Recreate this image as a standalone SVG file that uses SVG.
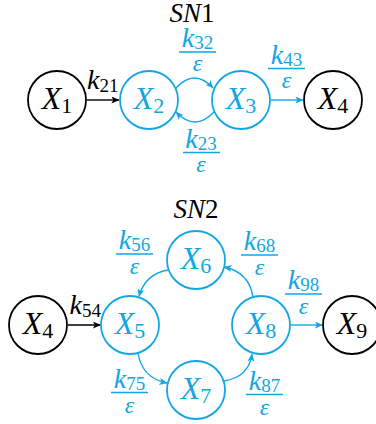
<svg xmlns="http://www.w3.org/2000/svg" width="376" height="424" viewBox="0 0 376 424">
<style>
.nb{fill:#fff;stroke:#000;stroke-width:1.8}
.nc{fill:#fff;stroke:#12A6E3;stroke-width:1.8}
.eb{stroke:#000;stroke-width:1.4;fill:none}
.ec{stroke:#12A6E3;stroke-width:1.4;fill:none}
.bar{stroke:#12A6E3;stroke-width:1.5}
</style>
<defs>
<marker id="ab" viewBox="0 0 8 7" refX="7.6" refY="3.5" markerWidth="8" markerHeight="7" markerUnits="userSpaceOnUse" orient="auto"><path d="M0,0 L8,3.5 L0,7 L2,3.5 z" fill="#000"/></marker>
<marker id="ac" viewBox="0 0 8 7" refX="7.6" refY="3.5" markerWidth="8" markerHeight="7" markerUnits="userSpaceOnUse" orient="auto"><path d="M0,0 L8,3.5 L0,7 L2,3.5 z" fill="#12A6E3"/></marker>
</defs>

<text x="169.5" y="22" font-family="Liberation Serif" font-size="27" font-style="italic" fill="#000">SN</text>
<text x="201" y="22" font-family="Liberation Serif" font-size="27" fill="#000">1</text>
<text x="173.5" y="218" font-family="Liberation Serif" font-size="27" font-style="italic" fill="#000">SN</text>
<text x="205" y="218" font-family="Liberation Serif" font-size="27" fill="#000">2</text>

<g id="connectors">
<line class="eb" x1="87" y1="100" x2="119" y2="100" marker-end="url(#ab)"/>
<path class="ec" d="M176,88 Q194.5,68 213,88" marker-end="url(#ac)"/>
<path class="ec" d="M214,112 Q195,132 176,112" marker-end="url(#ac)"/>
<line class="ec" x1="271" y1="100" x2="303" y2="100" marker-end="url(#ac)"/>
<line class="eb" x1="68" y1="325" x2="100.5" y2="325" marker-end="url(#ab)"/>
<path class="ec" d="M168,270 Q145,274 139,296.5" marker-end="url(#ac)"/>
<path class="ec" d="M253,297 Q249,272 224,267" marker-end="url(#ac)"/>
<path class="ec" d="M138,353 Q142,378 167,383" marker-end="url(#ac)"/>
<path class="ec" d="M224,381 Q249,377 252,354" marker-end="url(#ac)"/>
<line class="ec" x1="291" y1="325" x2="322.5" y2="325" marker-end="url(#ac)"/>

<text x="87" y="89" font-family="Liberation Serif" font-size="28" font-style="italic" fill="#000">k</text>
<text x="99.5" y="92" font-family="Liberation Serif" font-size="19" fill="#000">21</text>
<text x="69.5" y="314" font-family="Liberation Serif" font-size="28" font-style="italic" fill="#000">k</text>
<text x="82" y="317" font-family="Liberation Serif" font-size="19" fill="#000">54</text>

<g id="f32"><text x="181.8" y="47" font-family="Liberation Serif" font-size="28" font-style="italic" fill="#12A6E3">k</text><text x="194.2" y="49" font-family="Liberation Serif" font-size="19" fill="#12A6E3">32</text><line class="bar" x1="179" y1="52" x2="216" y2="52"/><text x="197.5" y="71" text-anchor="middle" font-family="Liberation Serif" font-style="italic" font-size="24" fill="#12A6E3">ε</text></g>
<g id="f43"><text x="270.8" y="63.5" font-family="Liberation Serif" font-size="28" font-style="italic" fill="#12A6E3">k</text><text x="283.2" y="65.5" font-family="Liberation Serif" font-size="19" fill="#12A6E3">43</text><line class="bar" x1="268" y1="68.5" x2="305" y2="68.5"/><text x="286.5" y="87.5" text-anchor="middle" font-family="Liberation Serif" font-style="italic" font-size="24" fill="#12A6E3">ε</text></g>
<g id="f23"><text x="185.3" y="147.5" font-family="Liberation Serif" font-size="28" font-style="italic" fill="#12A6E3">k</text><text x="197.7" y="149.5" font-family="Liberation Serif" font-size="19" fill="#12A6E3">23</text><line class="bar" x1="183" y1="152.5" x2="220" y2="152.5"/><text x="201" y="171.5" text-anchor="middle" font-family="Liberation Serif" font-style="italic" font-size="24" fill="#12A6E3">ε</text></g>
<g id="f56"><text x="118.8" y="249" font-family="Liberation Serif" font-size="28" font-style="italic" fill="#12A6E3">k</text><text x="131.2" y="251" font-family="Liberation Serif" font-size="19" fill="#12A6E3">56</text><line class="bar" x1="116" y1="254" x2="153" y2="254"/><text x="134.5" y="274" text-anchor="middle" font-family="Liberation Serif" font-style="italic" font-size="24" fill="#12A6E3">ε</text></g>
<g id="f68"><text x="243.8" y="250" font-family="Liberation Serif" font-size="28" font-style="italic" fill="#12A6E3">k</text><text x="256.2" y="252" font-family="Liberation Serif" font-size="19" fill="#12A6E3">68</text><line class="bar" x1="241" y1="255" x2="278" y2="255"/><text x="259.5" y="275" text-anchor="middle" font-family="Liberation Serif" font-style="italic" font-size="24" fill="#12A6E3">ε</text></g>
<g id="f98"><text x="287.8" y="289" font-family="Liberation Serif" font-size="28" font-style="italic" fill="#12A6E3">k</text><text x="300.2" y="291" font-family="Liberation Serif" font-size="19" fill="#12A6E3">98</text><line class="bar" x1="285" y1="294" x2="322" y2="294"/><text x="303.5" y="314" text-anchor="middle" font-family="Liberation Serif" font-style="italic" font-size="24" fill="#12A6E3">ε</text></g>
<g id="f75"><text x="113.8" y="387.5" font-family="Liberation Serif" font-size="28" font-style="italic" fill="#12A6E3">k</text><text x="126.2" y="389.5" font-family="Liberation Serif" font-size="19" fill="#12A6E3">75</text><line class="bar" x1="111" y1="392.5" x2="148" y2="392.5"/><text x="129.5" y="412.5" text-anchor="middle" font-family="Liberation Serif" font-style="italic" font-size="24" fill="#12A6E3">ε</text></g>
<g id="f87"><text x="248.8" y="389.5" font-family="Liberation Serif" font-size="28" font-style="italic" fill="#12A6E3">k</text><text x="261.2" y="391.5" font-family="Liberation Serif" font-size="19" fill="#12A6E3">87</text><line class="bar" x1="246" y1="394.5" x2="283" y2="394.5"/><text x="264.5" y="414.5" text-anchor="middle" font-family="Liberation Serif" font-style="italic" font-size="24" fill="#12A6E3">ε</text></g>
</g>

<g id="X1"><circle class="nb" cx="57" cy="100" r="29"/><text x="41.7" y="109" font-family="Liberation Serif" font-size="32" font-style="italic" fill="#000">X</text><text x="61.3" y="113" font-family="Liberation Serif" font-size="22" fill="#000">1</text></g>
<g id="X2"><circle class="nc" cx="149" cy="100" r="29"/><text x="133.7" y="109" font-family="Liberation Serif" font-size="32" font-style="italic" fill="#12A6E3">X</text><text x="153.3" y="113" font-family="Liberation Serif" font-size="22" fill="#12A6E3">2</text></g>
<g id="X3"><circle class="nc" cx="241" cy="100" r="29"/><text x="225.7" y="109" font-family="Liberation Serif" font-size="32" font-style="italic" fill="#12A6E3">X</text><text x="245.3" y="113" font-family="Liberation Serif" font-size="22" fill="#12A6E3">3</text></g>
<g id="X4a"><circle class="nb" cx="333" cy="100" r="29"/><text x="317.7" y="109" font-family="Liberation Serif" font-size="32" font-style="italic" fill="#000">X</text><text x="337.3" y="113" font-family="Liberation Serif" font-size="22" fill="#000">4</text></g>

<g id="X4b"><circle class="nb" cx="38" cy="325" r="29"/><text x="22.7" y="334" font-family="Liberation Serif" font-size="32" font-style="italic" fill="#000">X</text><text x="42.3" y="338" font-family="Liberation Serif" font-size="22" fill="#000">4</text></g>
<g id="X5"><circle class="nc" cx="130" cy="325" r="29"/><text x="114.7" y="334" font-family="Liberation Serif" font-size="32" font-style="italic" fill="#12A6E3">X</text><text x="134.3" y="338" font-family="Liberation Serif" font-size="22" fill="#12A6E3">5</text></g>
<g id="X6"><circle class="nc" cx="196" cy="260" r="29"/><text x="180.7" y="269" font-family="Liberation Serif" font-size="32" font-style="italic" fill="#12A6E3">X</text><text x="200.3" y="273" font-family="Liberation Serif" font-size="22" fill="#12A6E3">6</text></g>
<g id="X7"><circle class="nc" cx="196" cy="390" r="29"/><text x="180.7" y="399" font-family="Liberation Serif" font-size="32" font-style="italic" fill="#12A6E3">X</text><text x="200.3" y="403" font-family="Liberation Serif" font-size="22" fill="#12A6E3">7</text></g>
<g id="X8"><circle class="nc" cx="261" cy="325" r="29"/><text x="245.7" y="334" font-family="Liberation Serif" font-size="32" font-style="italic" fill="#12A6E3">X</text><text x="265.3" y="338" font-family="Liberation Serif" font-size="22" fill="#12A6E3">8</text></g>
<g id="X9"><circle class="nb" cx="352" cy="325" r="29"/><text x="336.7" y="334" font-family="Liberation Serif" font-size="32" font-style="italic" fill="#000">X</text><text x="356.3" y="338" font-family="Liberation Serif" font-size="22" fill="#000">9</text></g>
</svg>
